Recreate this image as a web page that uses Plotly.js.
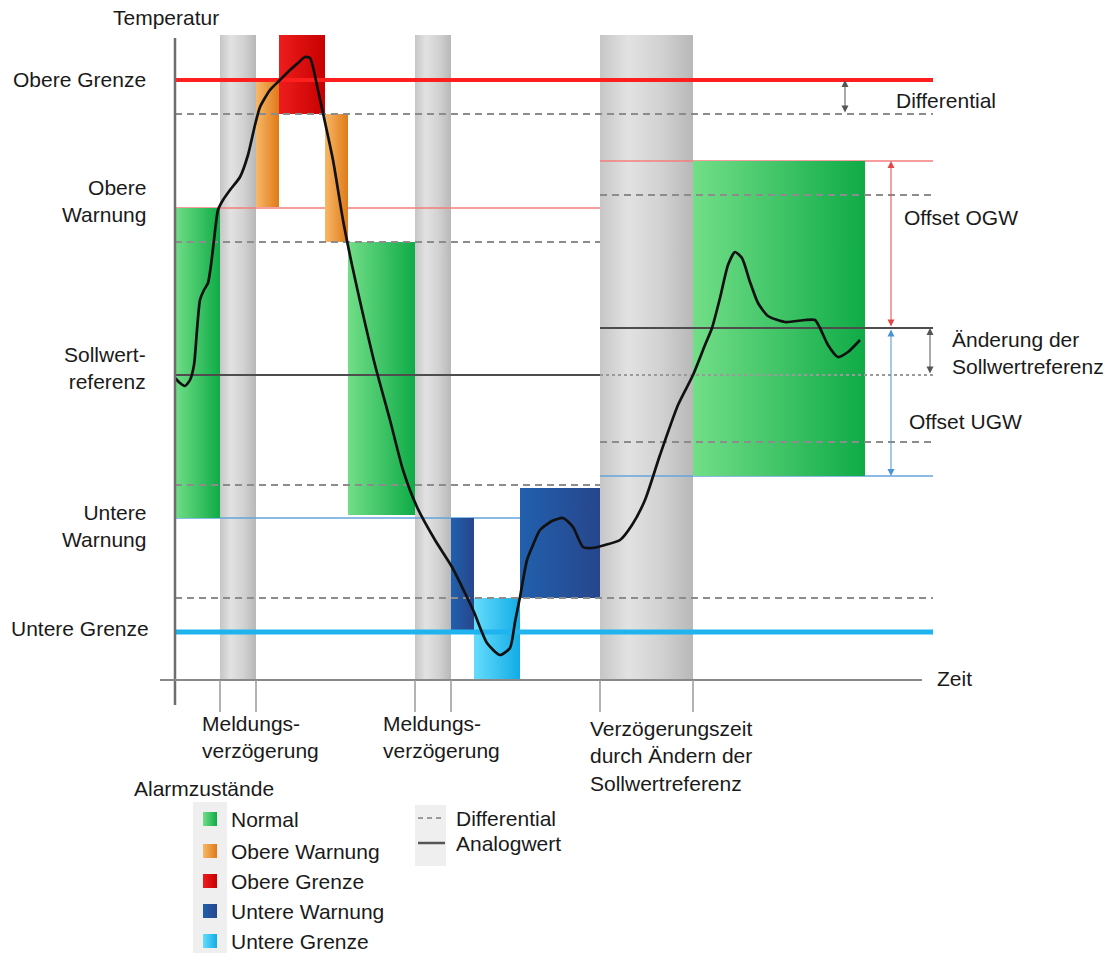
<!DOCTYPE html>
<html><head><meta charset="utf-8">
<script src="https://cdn.plot.ly/plotly-3.0.1.min.js"></script>
<style>html,body{margin:0;padding:0;background:#fff}#chart{width:1115px;height:953px}</style>
</head><body><div id="chart"></div>
<script>
// ---------- data (time / temperature in arbitrary units) ----------
const curveTime = [0.0,0.5,1.0,1.5,1.9,2.2,2.5,2.9,3.3,3.6,3.9,4.3,4.8,5.5,6.5,7.3,8.0,8.5,9.5,10.5,11.5,12.3,13.0,13.5,13.8,14.3,14.8,15.8,16.8,17.7,18.7,20.0,21.5,22.8,24.2,26.0,27.7,29.0,29.9,31.2,32.5,33.5,34.0,34.5,35.2,35.8,36.5,37.7,38.8,39.8,40.8,41.7,43.0,44.5,45.7,47.0,48.5,50.3,51.8,53.0,53.7,54.5,55.3,56.0,56.7,57.5,58.3,59.3,61.0,63.0,64.0,64.5,65.3,66.3,67.3,68.5];
const curveTemp = [30.2,29.7,29.4,30.0,31.5,35.0,38.0,39.0,39.7,41.5,44.0,47.0,48.0,49.0,50.3,52.5,55.5,57.3,59.0,60.0,61.0,61.7,62.3,62.2,61.3,59.0,56.7,52.0,46.0,41.5,37.0,31.5,26.0,21.0,17.3,14.0,11.3,8.7,6.8,3.7,2.5,3.2,5.8,8.3,12.0,13.5,15.0,15.9,16.2,15.3,13.3,13.2,13.5,14.0,15.5,18.0,22.5,27.5,30.5,33.5,35.2,38.2,41.5,42.8,42.2,39.8,37.7,36.4,35.8,36.0,36.0,35.2,33.5,32.3,32.8,34.0];

const bandStart = [4.5, 24.0, 42.5];
const bandEnd   = [8.1, 27.6, 51.8];
const bandTop   = 64.5;

const boxStart = [0.0, 8.1, 10.4, 15.0, 17.3, 27.6, 29.9, 34.5, 51.8];
const boxEnd   = [4.5, 10.4, 15.0, 17.3, 24.0, 29.9, 34.5, 42.5, 69.0];
const boxLow   = [16.2, 47.3, 56.6, 43.8, 16.5, 5.0, 0.0, 8.2, 20.4];
const boxHigh  = [47.2, 59.8, 64.5, 56.6, 43.8, 16.2, 8.2, 19.2, 51.9];
const boxState = ['Normal','Obere Warnung','Obere Grenze','Obere Warnung','Normal','Untere Warnung','Untere Grenze','Untere Warnung','Normal'];

const stateNames = ['Normal','Obere Warnung','Obere Grenze','Untere Warnung','Untere Grenze'];

const lineStart = [0.0, 0.0, 42.5, 0.0, 42.5,   0.0, 0.0, 42.5, 0.0, 42.5, 0.0,   0.0, 42.5, 42.5,   0.0, 0.0];
const lineEnd   = [75.8,42.5,75.8, 42.5,75.8,   75.8,42.5,75.8, 42.5,75.8, 75.8,  42.5,75.8, 75.8,   75.8,75.8];
const lineTemp  = [60.0,47.2,51.9, 16.2,20.4,   56.6,43.8,48.5, 19.5,23.8, 8.2,   30.5,35.2, 30.5,   4.8, 60.0];
const lineKind  = ['og','ow','ow','uw','uw',    'diff','diff','diff','diff','diff','diff', 'soll','soll','sollAlt', 'ug','og'];
const lineAbove = [false,false,false,false,false, true,true,true,true,true,true, true,true,true, true,true];

const delayTicks = [4.5, 8.1, 24.0, 27.6, 42.5, 51.8];

const arrowTime  = [67.0, 71.6, 71.6, 75.5];
const arrowFrom  = [56.6, 35.2, 35.2, 30.5];
const arrowTo    = [60.0, 51.9, 20.4, 35.2];
const arrowColor = ['#555555', '#e34848', '#4a94d6', '#555555'];

// ---------- styles ----------
const stateScale = {
  'Normal':         [[0,'#72de88'],[1,'#0fab46']],
  'Obere Warnung':  [[0,'#f7b868'],[1,'#df7a18']],
  'Obere Grenze':   [[0,'#ee1d1d'],[1,'#c70000']],
  'Untere Warnung': [[0,'#2160ad'],[1,'#27468c']],
  'Untere Grenze':  [[0,'#66dcfc'],[1,'#11ace6']]
};
const lineStyle = {
  og:      {color:'#ff1f1f', width:4},
  ow:      {color:'#f47c7c', width:1.5},
  uw:      {color:'#64a4dc', width:1.5},
  diff:    {color:'#8c8c8c', width:2, dash:'7px,5px'},
  soll:    {color:'#4d4d4d', width:2},
  sollAlt: {color:'#9a9a9a', width:2, dash:'dot'},
  ug:      {color:'#1fb4ef', width:5}
};
const FONT = 'Liberation Sans, Arial, sans-serif';
const FS = 21;

const traces = [];
// grey delay bands
bandStart.forEach((s,i)=>{
  traces.push({x:[s,bandEnd[i],bandEnd[i],s,s], y:[0,0,bandTop,bandTop,0], mode:'lines', fill:'toself',
    line:{width:0}, fillcolor:'#d5d5d5',
    fillgradient:{type:'horizontal', colorscale:[[0,'#c6c6c6'],[0.3,'#e2e2e2'],[0.65,'#d2d2d2'],[1,'#b8b8b8']]},
    hoverinfo:'skip'});
});
function addLines(above){
  lineStart.forEach((s,i)=>{
    if(lineAbove[i]!==above) return;
    traces.push({x:[s,lineEnd[i]], y:[lineTemp[i],lineTemp[i]], mode:'lines', line:lineStyle[lineKind[i]], hoverinfo:'skip'});
  });
}
addLines(false);
// alarm state boxes
boxStart.forEach((s,i)=>{
  const e=boxEnd[i], lo=boxLow[i], hi=boxHigh[i];
  traces.push({x:[s,e,e,s,s], y:[lo,lo,hi,hi,lo], mode:'lines', fill:'toself', line:{width:0},
    fillcolor:stateScale[boxState[i]][1][1],
    fillgradient:{type:'horizontal', colorscale:stateScale[boxState[i]]}, hoverinfo:'skip', name:boxState[i]});
});
addLines(true);
// analog value
traces.push({x:curveTime, y:curveTemp, mode:'lines', line:{color:'#111111', width:2.7, shape:'spline', smoothing:0.6}, name:'Analogwert', hoverinfo:'skip'});

// legend squares (alarm states)
const legRowY = [819, 851, 881, 911, 941];
const PX = x=>x/1115, PY = y=>1-y/953;
const toT = px=>(px-175)/10, toY = py=>(680-py)/10;
traces.push({x:stateNames.map(()=>toT(210)), y:legRowY.map(toY), mode:'markers',
  marker:{symbol:'square', size:14, color:stateNames.map(n=>stateScale[n][0][1]),
    gradient:{type:'horizontal', color:stateNames.map(n=>stateScale[n][1][1])}, line:{width:0}},
  hoverinfo:'skip'});

// ---------- shapes ----------
const shapes = [];
shapes.push({type:'rect', xref:'paper', yref:'paper', x0:PX(193), x1:PX(227), y0:PY(953), y1:PY(802), fillcolor:'#efefef', line:{width:0}, layer:'below'});
shapes.push({type:'rect', xref:'paper', yref:'paper', x0:PX(415), x1:PX(446), y0:PY(866), y1:PY(805), fillcolor:'#efefef', line:{width:0}, layer:'below'});
shapes.push({type:'line', xref:'paper', yref:'paper', x0:PX(418), x1:PX(445), y0:PY(818), y1:PY(818), line:{color:'#9a9a9a', width:2, dash:'5px,4px'}});
shapes.push({type:'line', xref:'paper', yref:'paper', x0:PX(418), x1:PX(445), y0:PY(843), y1:PY(843), line:{color:'#555555', width:2.5}});
// axes
shapes.push({type:'line', x0:0, x1:0, y0:-2.5, y1:64.2, line:{color:'#6e6e6e', width:2.5}});
shapes.push({type:'line', x0:-1.5, x1:74.7, y0:0, y1:0, line:{color:'#888888', width:2}});
delayTicks.forEach(t=>shapes.push({type:'line', x0:t, x1:t, y0:0, y1:-3.2, line:{color:'#9a9a9a', width:1.5}}));

// ---------- annotations ----------
const ann = [];
function txt(text, x, y, xanchor, align){
  ann.push({text, xref:'paper', yref:'paper', x:PX(x), y:PY(y), xanchor:xanchor||'left', yanchor:'middle',
    align:align||'left', showarrow:false, font:{family:FONT, size:FS, color:'#1a1a1a'}});
}
txt('Temperatur', 166, 18, 'center', 'center');
txt('Obere Grenze', 148, 80, 'right', 'right');
txt('Obere<br>Warnung', 148, 201, 'right', 'right');
txt('Sollwert-<br>referenz', 148, 368, 'right', 'right');
txt('Untere<br>Warnung', 148, 526, 'right', 'right');
txt('Untere Grenze', 151, 628, 'right', 'right');
txt('Differential', 894, 101);
txt('Offset OGW', 902, 218);
txt('Änderung der<br>Sollwertreferenz', 950, 353);
txt('Offset UGW', 907, 421);
txt('Zeit', 935, 678);
txt('Meldungs-<br>verzögerung', 200, 737);
txt('Meldungs-<br>verzögerung', 381, 737);
txt('Verzögerungszeit<br>durch Ändern der<br>Sollwertreferenz', 588, 756);
txt('Alarmzustände', 132, 788);
stateNames.forEach((n,i)=>txt(n, 229, legRowY[i]));
txt('Differential', 454, 818);
txt('Analogwert', 454, 843);

arrowTime.forEach((t,i)=>{
  ann.push({x:t, y:arrowTo[i], ax:t, ay:arrowFrom[i], xref:'x', yref:'y', axref:'x', ayref:'y', text:'',
    showarrow:true, arrowhead:2, arrowside:'end+start', arrowsize:1.4, arrowwidth:1, arrowcolor:arrowColor[i], standoff:0, startstandoff:0});
});

const layout = {
  width:1115, height:953, margin:{l:0,r:0,t:0,b:0},
  paper_bgcolor:'#ffffff', plot_bgcolor:'#ffffff', showlegend:false,
  xaxis:{range:[-17.5, 94.0], visible:false, fixedrange:true},
  yaxis:{range:[-27.3, 68.0], visible:false, fixedrange:true},
  shapes, annotations:ann, font:{family:FONT}
};
Plotly.newPlot('chart', traces, layout, {displayModeBar:false, staticPlot:true});
</script></body></html>
